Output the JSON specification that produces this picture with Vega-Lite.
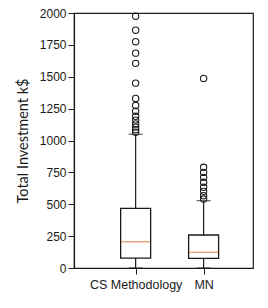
{
  "$schema": "https://vega.github.io/schema/vega-lite/v6.json",
  "autosize": {"type": "none"},
  "padding": {"left": 74, "top": 13, "right": 15, "bottom": 40},
  "width": 179,
  "height": 255,
  "background": "white",
  "config": {
    "view": {"stroke": "#1a1a1a", "strokeWidth": 1.2},
    "axis": {"domainColor": "#1a1a1a", "tickColor": "#1a1a1a", "labelColor": "#1a1a1a", "titleColor": "#1a1a1a", "labelFont": "Liberation Sans", "labelFontSize": 12, "grid": false, "tickSize": 6, "domainWidth": 1.2, "tickWidth": 1}
  },
  "datasets": {
    "stats": [
      {"group": 1, "lo": 0, "q1": 78, "median": 206, "q3": 468, "hi": 1049},
      {"group": 2, "lo": 0, "q1": 76, "median": 123, "q3": 259, "hi": 528}
    ],
    "outliers": [
      {"group": 1, "value": 1975},
      {"group": 1, "value": 1865},
      {"group": 1, "value": 1775},
      {"group": 1, "value": 1685},
      {"group": 1, "value": 1605},
      {"group": 1, "value": 1450},
      {"group": 1, "value": 1330},
      {"group": 1, "value": 1275},
      {"group": 1, "value": 1230},
      {"group": 1, "value": 1190},
      {"group": 1, "value": 1160},
      {"group": 1, "value": 1130},
      {"group": 1, "value": 1105},
      {"group": 1, "value": 1085},
      {"group": 1, "value": 1065},
      {"group": 2, "value": 1487},
      {"group": 2, "value": 790},
      {"group": 2, "value": 750},
      {"group": 2, "value": 711},
      {"group": 2, "value": 672},
      {"group": 2, "value": 633},
      {"group": 2, "value": 601},
      {"group": 2, "value": 567},
      {"group": 2, "value": 541}
    ]
  },
  "encoding": {
    "x": {
      "field": "group", "type": "quantitative",
      "scale": {"domain": [0.1667, 2.653], "nice": false, "zero": false},
      "axis": {"values": [1, 2], "title": null, "labelExpr": "datum.value == 1 ? 'CS Methodology' : 'MN'", "labelPadding": 4, "labelFontSize": 12.5}
    }
  },
  "layer": [
    {
      "data": {"name": "stats"},
      "mark": {"type": "rule", "color": "#1a1a1a", "strokeWidth": 1.2},
      "encoding": {
        "y": {
          "field": "lo", "type": "quantitative",
          "scale": {"domain": [0, 2000], "nice": false},
          "axis": {"values": [0, 250, 500, 750, 1000, 1250, 1500, 1750, 2000], "format": "d", "labelOverlap": false, "title": "Total Investment k$", "titleFont": "Lato", "titleFontSize": 14.5, "titleFontWeight": "normal", "titlePadding": 9}
        },
        "y2": {"field": "hi"}
      }
    },
    {
      "data": {"name": "stats"},
      "mark": {"type": "bar", "size": 30, "fill": "white", "stroke": "#1a1a1a", "strokeWidth": 1.3},
      "encoding": {
        "y": {"field": "q1", "type": "quantitative", "axis": {"values": [0, 250, 500, 750, 1000, 1250, 1500, 1750, 2000], "format": "d", "labelOverlap": false, "title": "Total Investment k$", "titleFont": "Lato", "titleFontSize": 14.5, "titleFontWeight": "normal", "titlePadding": 9}},
        "y2": {"field": "q3"}
      }
    },
    {
      "data": {"name": "stats"},
      "mark": {"type": "tick", "orient": "horizontal", "size": 29, "thickness": 1.4, "color": "#e07b40"},
      "encoding": {"y": {"field": "median", "type": "quantitative", "axis": {"values": [0, 250, 500, 750, 1000, 1250, 1500, 1750, 2000], "format": "d", "labelOverlap": false, "title": "Total Investment k$", "titleFont": "Lato", "titleFontSize": 14.5, "titleFontWeight": "normal", "titlePadding": 9}}}
    },
    {
      "data": {"name": "stats"},
      "mark": {"type": "tick", "orient": "horizontal", "size": 14, "thickness": 1.2, "color": "#1a1a1a"},
      "encoding": {"y": {"field": "hi", "type": "quantitative", "axis": {"values": [0, 250, 500, 750, 1000, 1250, 1500, 1750, 2000], "format": "d", "labelOverlap": false, "title": "Total Investment k$", "titleFont": "Lato", "titleFontSize": 14.5, "titleFontWeight": "normal", "titlePadding": 9}}}
    },
    {
      "data": {"name": "stats"},
      "mark": {"type": "tick", "orient": "horizontal", "size": 14, "thickness": 1.2, "color": "#1a1a1a"},
      "encoding": {"y": {"field": "lo", "type": "quantitative", "axis": {"values": [0, 250, 500, 750, 1000, 1250, 1500, 1750, 2000], "format": "d", "labelOverlap": false, "title": "Total Investment k$", "titleFont": "Lato", "titleFontSize": 14.5, "titleFontWeight": "normal", "titlePadding": 9}}}
    },
    {
      "data": {"name": "outliers"},
      "mark": {"type": "point", "shape": "circle", "size": 40, "filled": false, "stroke": "#1a1a1a", "strokeWidth": 1.1, "opacity": 1},
      "encoding": {"y": {"field": "value", "type": "quantitative", "axis": {"values": [0, 250, 500, 750, 1000, 1250, 1500, 1750, 2000], "format": "d", "labelOverlap": false, "title": "Total Investment k$", "titleFont": "Lato", "titleFontSize": 14.5, "titleFontWeight": "normal", "titlePadding": 9}}}
    }
  ]
}
